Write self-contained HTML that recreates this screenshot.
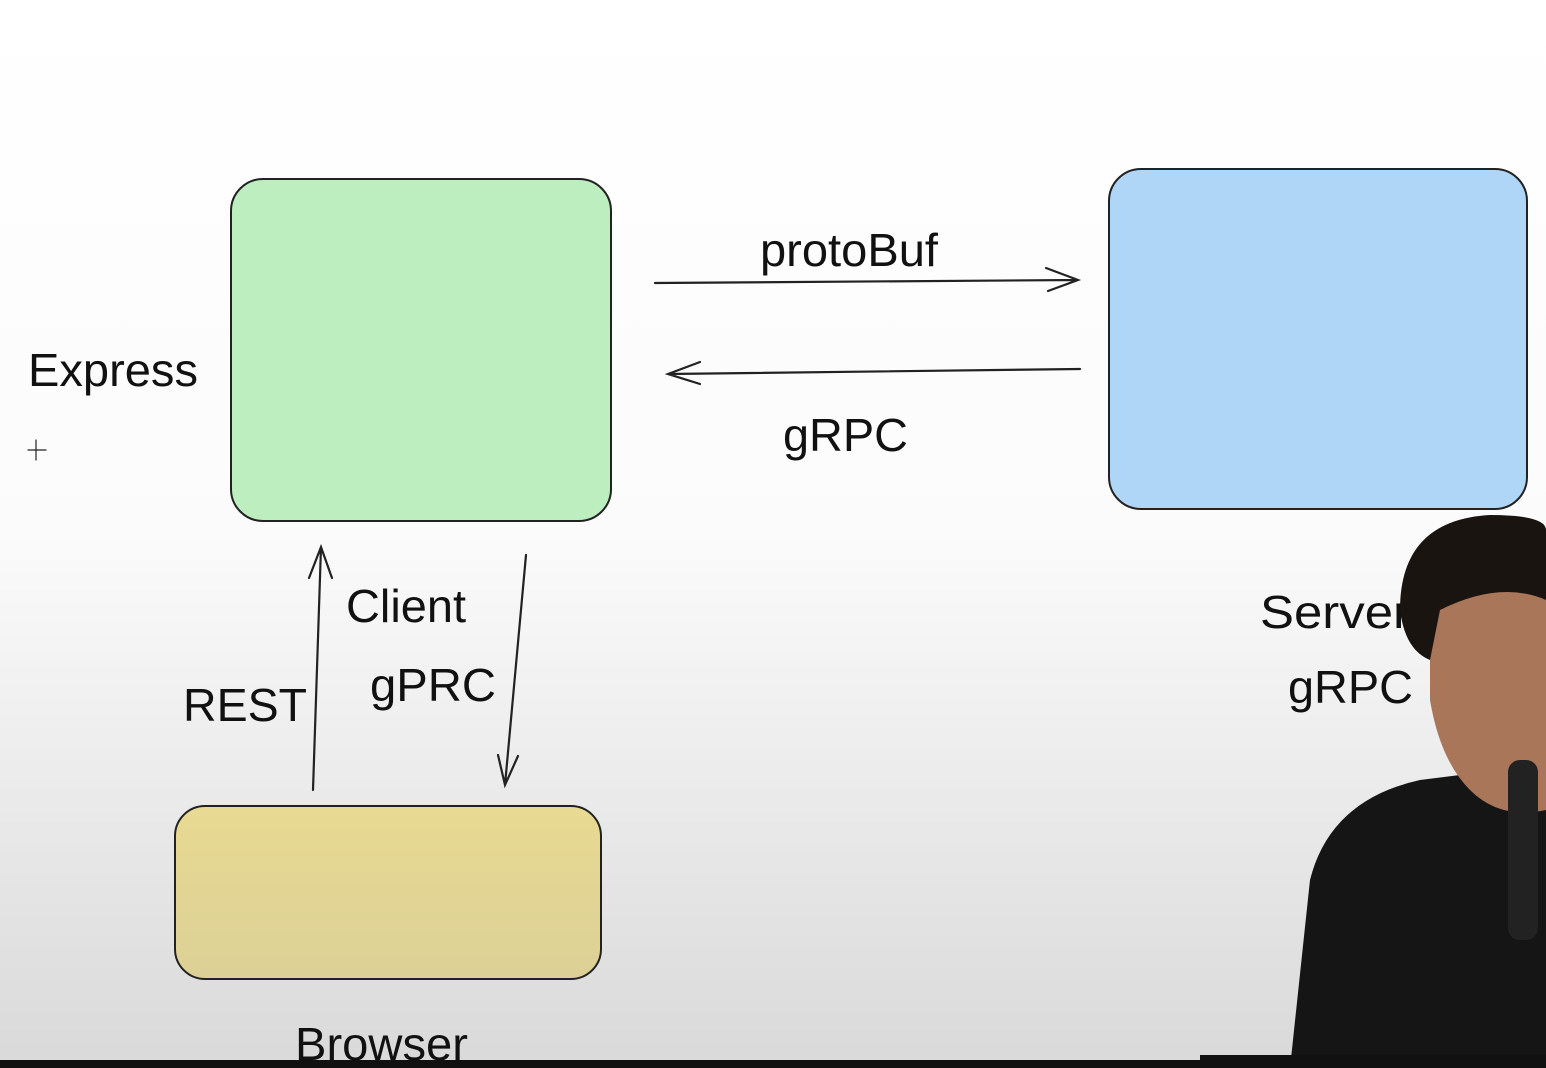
<!DOCTYPE html>
<html><head><meta charset="utf-8"><style>
html,body{margin:0;padding:0;width:1546px;height:1068px;overflow:hidden}
svg{display:block}
text{font-family:"Liberation Sans",sans-serif;fill:#111}
</style></head><body>
<svg width="1546" height="1068" viewBox="0 0 1546 1068" xmlns="http://www.w3.org/2000/svg">
<defs>
<linearGradient id="bg" x1="0" y1="0" x2="0" y2="1">
<stop offset="0" stop-color="#ffffff"/><stop offset="0.5" stop-color="#fbfbfb"/><stop offset="1" stop-color="#d9d9d9"/>
</linearGradient>
<linearGradient id="yb" x1="0" y1="0" x2="0" y2="1">
<stop offset="0" stop-color="#e8da92"/><stop offset="1" stop-color="#dcd096"/>
</linearGradient>
</defs>
<rect width="1546" height="1068" fill="url(#bg)"/>
<rect x="231" y="179" width="380" height="342" rx="32" fill="#bdeebf" stroke="#222" stroke-width="2"/>
<rect x="1109" y="169" width="418" height="340" rx="32" fill="#afd5f7" stroke="#222" stroke-width="2"/>
<rect x="175" y="806" width="426" height="173" rx="30" fill="url(#yb)" stroke="#222" stroke-width="2"/>
<g stroke="#222" stroke-width="2.2" fill="none" stroke-linecap="round">
<path d="M655 283 L1078 280 M1046 268 L1078 280 L1048 291"/>
<path d="M1080 369 L668 374 M700 362 L668 374 L700 384"/>
<path d="M313 790 L321 547 M309 578 L321 547 L332 578"/>
<path d="M526 555 L505 785 M498 755 L505 785 L518 756"/>
<path d="M28 450 L46 450 M36 440 L36 460" stroke-width="1.2"/>
</g>
<g font-size="46" lengthAdjust="spacingAndGlyphs">
<text x="28" y="386" textLength="170" lengthAdjust="spacingAndGlyphs">Express</text>
<text x="760" y="266" textLength="178" lengthAdjust="spacingAndGlyphs">protoBuf</text>
<text x="783" y="451" textLength="125" lengthAdjust="spacingAndGlyphs">gRPC</text>
<text x="346" y="622" textLength="120" lengthAdjust="spacingAndGlyphs">Client</text>
<text x="370" y="701" textLength="126" lengthAdjust="spacingAndGlyphs">gPRC</text>
<text x="183" y="721" textLength="124" lengthAdjust="spacingAndGlyphs">REST</text>
<text x="1260" y="628" textLength="150" lengthAdjust="spacingAndGlyphs">Server</text>
<text x="1288" y="703" textLength="125" lengthAdjust="spacingAndGlyphs">gRPC</text>
<text x="295" y="1060" textLength="173" lengthAdjust="spacingAndGlyphs">Browser</text>
</g>
<!-- person approximation -->
<path d="M1290 1068 L1310 880 Q1330 800 1420 780 L1500 770 Q1546 780 1546 800 L1546 1068 Z" fill="#151515"/>
<path d="M1430 640 Q1430 560 1490 555 Q1546 555 1546 600 L1546 810 Q1500 820 1470 790 Q1440 760 1430 700 Z" fill="#a9765a"/>
<path d="M1400 610 Q1400 520 1490 515 Q1546 515 1546 530 L1546 600 Q1500 580 1440 610 L1430 660 Q1405 650 1400 610 Z" fill="#1a1410"/>
<rect x="1508" y="760" width="30" height="180" rx="12" fill="#222"/>
<rect x="1200" y="1055" width="346" height="13" fill="#111"/>
<rect x="0" y="1060" width="1546" height="8" fill="#111"/>
</svg>
</body></html>
